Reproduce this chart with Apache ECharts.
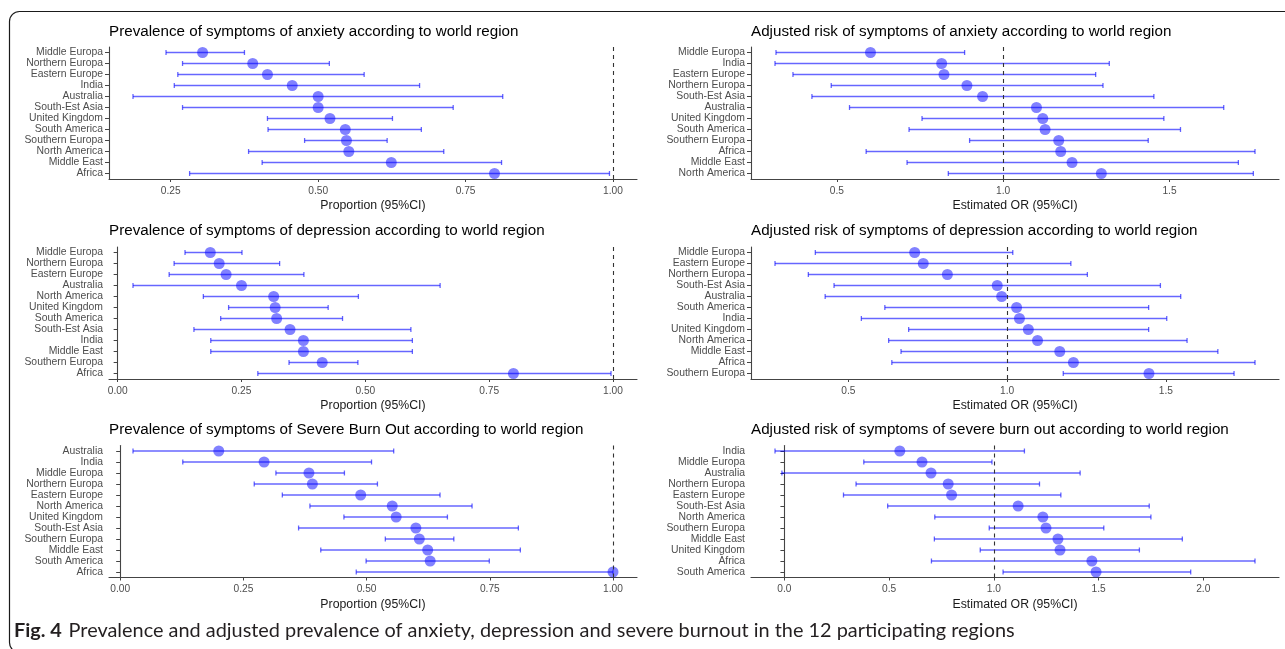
<!DOCTYPE html>
<html><head><meta charset="utf-8">
<script src="https://cdn.jsdelivr.net/npm/echarts@6/dist/echarts.min.js"></script>
<style>html,body{margin:0;padding:0;background:#fff}#c{width:1285px;height:649px}</style>
</head><body><div id="c"></div><script>
// ---------- DATA ----------
const anxRegions = ['Middle Europa','Northern Europa','Eastern Europe','India','Australia','South-Est Asia','United Kingdom','South America','Southern Europa','North America','Middle East','Africa'];
const anxEst = [0.304,0.389,0.414,0.456,0.500,0.500,0.520,0.546,0.548,0.552,0.624,0.799];
const anxLo  = [0.242,0.270,0.262,0.256,0.186,0.270,0.414,0.415,0.477,0.382,0.405,0.282];
const anxHi  = [0.375,0.519,0.578,0.672,0.813,0.729,0.626,0.675,0.617,0.713,0.811,0.994];

const orAnxRegions = ['Middle Europa','India','Eastern Europe','Northern Europa','South-Est Asia','Australia','United Kingdom','South America','Southern Europa','Africa','Middle East','North America'];
const orAnxEst = [0.601,0.815,0.822,0.891,0.938,1.100,1.119,1.126,1.167,1.173,1.207,1.295];
const orAnxLo  = [0.317,0.314,0.368,0.483,0.425,0.538,0.756,0.717,0.899,0.588,0.711,0.835];
const orAnxHi  = [0.884,1.319,1.278,1.300,1.453,1.663,1.483,1.533,1.436,1.757,1.707,1.752];

const depRegions = ['Middle Europa','Northern Europa','Eastern Europe','Australia','North America','United Kingdom','South America','South-Est Asia','India','Middle East','Southern Europa','Africa'];
const depEst = [0.187,0.205,0.219,0.250,0.315,0.318,0.321,0.348,0.375,0.375,0.413,0.799];
const depLo  = [0.136,0.114,0.104,0.031,0.173,0.224,0.208,0.154,0.188,0.188,0.346,0.283];
const depHi  = [0.251,0.327,0.376,0.651,0.486,0.425,0.454,0.592,0.595,0.595,0.485,0.996];

const orDepRegions = ['Middle Europa','Eastern Europe','Northern Europa','South-Est Asia','Australia','South America','India','United Kingdom','North America','Middle East','Africa','Southern Europa'];
const orDepEst = [0.709,0.736,0.812,0.969,0.983,1.030,1.039,1.067,1.096,1.166,1.209,1.447];
const orDepLo  = [0.396,0.269,0.374,0.455,0.427,0.615,0.541,0.690,0.627,0.666,0.637,1.177];
const orDepHi  = [1.018,1.201,1.253,1.483,1.547,1.446,1.503,1.446,1.567,1.664,1.781,1.715];

const burRegions = ['Australia','India','Middle Europa','Northern Europa','Eastern Europe','North America','United Kingdom','South-Est Asia','Southern Europa','Middle East','South America','Africa'];
const burEst = [0.200,0.292,0.383,0.390,0.488,0.552,0.560,0.600,0.607,0.624,0.629,1.000];
const burLo  = [0.026,0.127,0.316,0.272,0.329,0.385,0.454,0.362,0.538,0.407,0.499,0.479];
const burHi  = [0.555,0.510,0.455,0.522,0.649,0.714,0.664,0.808,0.677,0.812,0.749,1.000];

const orBurRegions = ['India','Middle Europa','Australia','Northern Europa','Eastern Europe','South-Est Asia','North America','Southern Europa','Middle East','United Kingdom','Africa','South America'];
const orBurEst = [0.551,0.657,0.700,0.782,0.798,1.116,1.234,1.249,1.306,1.316,1.468,1.488];
const orBurLo  = [-0.045,0.379,-0.012,0.342,0.282,0.493,0.718,0.978,0.716,0.935,0.702,1.044];
const orBurHi  = [1.146,0.991,1.412,1.218,1.320,1.742,1.750,1.525,1.900,1.695,2.247,1.940];

const propTicksA = [0.25,0.50,0.75,1.00];
const propLabelsA = ['0.25','0.50','0.75','1.00'];
const propTicksB = [0,0.25,0.50,0.75,1.00];
const propLabelsB = ['0.00','0.25','0.50','0.75','1.00'];
const orTicksA = [0.5,1.0,1.5];
const orLabelsA = ['0.5','1.0','1.5'];
const orTicksB = [0,0.5,1.0,1.5,2.0];
const orLabelsB = ['0.0','0.5','1.0','1.5','2.0'];

const titles = [
  'Prevalence of symptoms of anxiety according to world region',
  'Adjusted risk of symptoms of anxiety according to world region',
  'Prevalence of symptoms of depression according to world region',
  'Adjusted risk of symptoms of depression according to world region',
  'Prevalence of symptoms of Severe Burn Out according to world region',
  'Adjusted risk of symptoms of severe burn out according to world region'
];
const xNames = ['Proportion (95%CI)','Estimated OR (95%CI)'];
const captionBold = 'Fig. 4';
const captionText = 'Prevalence and adjusted prevalence of anxiety, depression and severe burnout in the 12 participating regions';

// ---------- LAYOUT ----------
const colLeft = [109, 751];
const colWidth = 528;
const rowTop = [47, 247, 445.5];
const rowHeight = 132;
const titleY = [33.3, 232, 431];

const panels = [
  {regions: anxRegions, est: anxEst, lo: anxLo, hi: anxHi, ticks: propTicksA, labels: propLabelsA, col:0, row:0},
  {regions: orAnxRegions, est: orAnxEst, lo: orAnxLo, hi: orAnxHi, ticks: orTicksA, labels: orLabelsA, col:1, row:0},
  {regions: depRegions, est: depEst, lo: depLo, hi: depHi, ticks: propTicksB, labels: propLabelsB, col:0, row:1},
  {regions: orDepRegions, est: orDepEst, lo: orDepLo, hi: orDepHi, ticks: orTicksA, labels: orLabelsA, col:1, row:1},
  {regions: burRegions, est: burEst, lo: burLo, hi: burHi, ticks: propTicksB, labels: propLabelsB, col:0, row:2},
  {regions: orBurRegions, est: orBurEst, lo: orBurLo, hi: orBurHi, ticks: orTicksB, labels: orLabelsB, col:1, row:2}
];

const FONT = '"Liberation Sans", Arial, sans-serif';
const barColor = 'rgba(0,0,255,0.6)';
const ptColor = 'rgba(0,0,255,0.62)';
const axisColor = '#444';

const grid = [], xAxis = [], yAxis = [], series = [], graphic = [];

panels.forEach((p, k) => {
  const lo = Math.min(...p.lo, 1), hi = Math.max(...p.hi, 1);
  const pad = (hi - lo) * 0.05;
  grid.push({left: colLeft[p.col], top: rowTop[p.row], width: colWidth, height: rowHeight});
  xAxis.push({
    type: 'value', gridIndex: k, min: lo - pad, max: hi + pad,
    name: xNames[p.col], nameLocation: 'middle', nameGap: 21,
    nameTextStyle: {fontFamily: FONT, fontSize: 12.3, color: '#1a1a1a'},
    axisLine: {show: true, lineStyle: {color: axisColor, width: 1.1}},
    axisTick: {show: true, length: 3, customValues: p.ticks, lineStyle: {color: axisColor}},
    axisLabel: {customValues: p.ticks, margin: 7, fontFamily: FONT, fontSize: 10.2, color: '#4d4d4d',
      formatter: v => { let b = 0; p.ticks.forEach((t, i) => { if (Math.abs(t - v) < Math.abs(p.ticks[b] - v)) b = i; }); return p.labels[b]; }},
    splitLine: {show: false}
  });
  yAxis.push({
    type: 'category', gridIndex: k, data: p.regions, inverse: true,
    axisLine: {show: true, lineStyle: {color: axisColor, width: 1.1}},
    axisTick: {show: true, length: 4, alignWithLabel: true, lineStyle: {color: axisColor}},
    axisLabel: {margin: 6, fontFamily: FONT, fontSize: 10.4, color: '#4d4d4d', interval: 0},
    splitLine: {show: false}
  });
  series.push({
    type: 'custom', xAxisIndex: k, yAxisIndex: k, silent: true, z: 2,
    encode: {x: [0, 1], y: 2},
    data: p.regions.map((r, i) => [p.lo[i], p.hi[i], i]),
    renderItem: (params, api) => {
      const i = api.value(2);
      const a = api.coord([api.value(0), i]);
      const b = api.coord([api.value(1), i]);
      const h = 2.5;
      const style = {stroke: barColor, lineWidth: 1.3, fill: null};
      return {type: 'group', children: [
        {type: 'line', shape: {x1: a[0], y1: a[1], x2: b[0], y2: b[1]}, style},
        {type: 'line', shape: {x1: a[0], y1: a[1] - h, x2: a[0], y2: a[1] + h}, style},
        {type: 'line', shape: {x1: b[0], y1: b[1] - h, x2: b[0], y2: b[1] + h}, style}
      ]};
    }
  });
  series.push({
    type: 'scatter', xAxisIndex: k, yAxisIndex: k, silent: true, z: 3,
    symbolSize: 11, itemStyle: {color: ptColor},
    data: p.est.map((v, i) => [v, i]),
    markLine: {silent: true, symbol: ['none', 'none'], label: {show: false},
      lineStyle: {type: [4, 4], color: '#333', width: 1.1}, data: [{xAxis: 1}]}
  });
  graphic.push({type: 'text', left: colLeft[p.col], top: titleY[p.row] - 8.5,
    style: {text: titles[k], font: '15.2px ' + FONT, fill: '#000'}});
});

graphic.push({type: 'rect', shape: {x: 9.5, y: 11.5, width: 1400, height: 641, r: 10},
  style: {fill: 'none', stroke: '#1a1a1a', lineWidth: 1.2}, silent: true});
graphic.push({type: 'text', left: 14, top: 620.5,
  style: {text: '{b|' + captionBold + '}  {r|' + captionText + '}',
    rich: {b: {fontFamily: 'Lato, "Open Sans", sans-serif', fontWeight: 'bold', fontSize: 19.9, fill: '#231f20'},
           r: {fontFamily: 'Lato, "Open Sans", sans-serif', fontSize: 19.9, fill: '#231f20'}}}});

const chart = echarts.init(document.getElementById('c'), null, {renderer: 'canvas'});
chart.setOption({animation: false, grid, xAxis, yAxis, series, graphic});
</script></body></html>
